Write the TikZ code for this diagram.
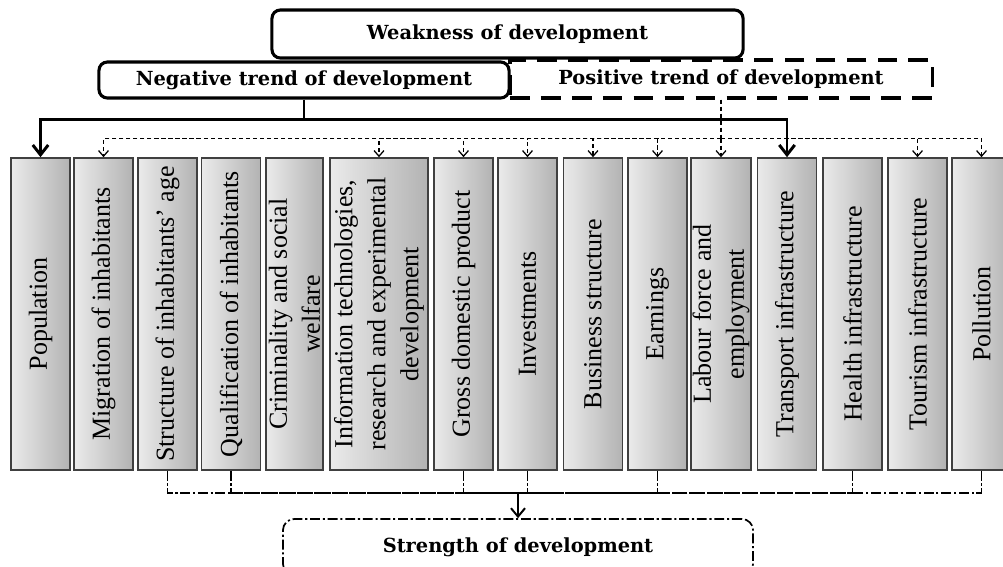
\documentclass[tikz,border=0pt]{standalone}
\usepackage{fontspec}
\setmainfont{Liberation Serif}
\newfontfamily\headfont{DejaVu Serif}
\usetikzlibrary{arrows.meta}
\tikzset{
	factor/.style={draw=black!75, line width=1.1pt, rotate=90, left color=black!8, right color=black!30, minimum width=7.8cm, minimum height=1.475cm, inner sep=1pt, align=center, font=\fontsize{18.5}{23.4}\selectfont},
	headbox/.style={draw, fill=white, line width=2.2pt, rounded corners=6pt, inner sep=0pt, font=\headfont\bfseries\fontsize{13.8}{16}\selectfont},
	negline/.style={line width=2.1pt},
	negarrow/.style={line width=2.1pt, -{Straight Barb[length=7pt,width=11pt]}},
	posline/.style={line width=1pt, dash pattern=on 3pt off 2pt},
	posarrow/.style={posline, -{Straight Barb[length=4pt,width=7pt,line width=0.9pt]}},
	strline/.style={line width=1pt, dash pattern=on 7pt off 2pt on 1.5pt off 2pt},
	strarrow/.style={line width=1.4pt, -{Straight Barb[length=6pt,width=10pt]}}
}

\begin{document}
\begin{tikzpicture}[x=0.025cm, y=-0.025cm]
		%%%%% START %%%%%
		\useasboundingbox (0, 0) rectangle (1003, 566);
		
		\node[headbox, minimum width=11.775cm, minimum height=1.2cm] (weak) at (507.5, 34) {Weakness of development};
		\node[headbox, minimum width=10.25cm, minimum height=0.9cm] (neg) at (304, 80) {Negative trend of development};
		\node[headbox, dash pattern=on 14pt off 8pt, rounded corners=0pt, fill=none, minimum width=10.55cm, minimum height=0.95cm] (pos) at (721, 79) {Positive trend of development};
		
		\node[factor] (pop) at (40.5, 314) {Population};
		\node[factor] (mig) at (103.5, 314) {Migration of inhabitants};
		\node[factor] (str) at (167.5, 314) {Structure of inhabitants' age};
		\node[factor] (qual) at (231, 314) {Qualification of inhabitants};
		\node[factor, minimum height=1.43cm] (crim) at (294.5, 314) {Criminality and social\\welfare};
		\node[factor, minimum height=2.45cm] (it) at (379, 314) {Information technologies,\\research and experimental\\development};
		\node[factor] (gdp) at (463.5, 314) {Gross domestic product};
		\node[factor] (inv) at (527.5, 314) {Investments};
		\node[factor] (busi) at (593, 314) {Business structure};
		\node[factor] (earn) at (657.5, 314) {Earnings};
		\node[factor] (lab) at (721, 314) {Labour force and\\employment};
		\node[factor] (trans) at (787, 314) {Transport infrastructure};
		\node[factor] (heal) at (852.5, 314) {Health infrastructure};
		\node[factor] (tour) at (917.5, 314) {Tourism infrastructure};
		\node[factor] (poll) at (981.5, 314) {Pollution};
		
		\node[headbox, line width=1.2pt, rounded corners=8pt, fill=none, dash pattern=on 7pt off 2pt on 1.5pt off 2pt, minimum width=11.75cm, minimum height=1.4cm] (strength) at (518, 547) {Strength of development};
		
		% negative trend
		\draw[negline] (neg.south) -- ++(0, 20) coordinate (nj);
		\draw[negarrow] (nj) -| (pop.east);
		\draw[negarrow] (nj) -| (trans.east);
		
		% positive trend
		\draw[posline] (pos.south) -- ++(0, 39) coordinate (pj);
		\foreach \n in {mig, it, gdp, inv, busi, earn, lab, tour, poll}
			\draw[posarrow] (pj) -| (\n.east);
		
		% strength
		\path (strength.north) ++(0, -25) coordinate (sj);
		\foreach \n in {str, qual, gdp, inv, earn, heal, poll}
			\draw[strline] (\n.west) |- (sj);
		\draw[strarrow] (sj) -- (strength.north);
		%%%%% END %%%%%
\end{tikzpicture}
\end{document}
